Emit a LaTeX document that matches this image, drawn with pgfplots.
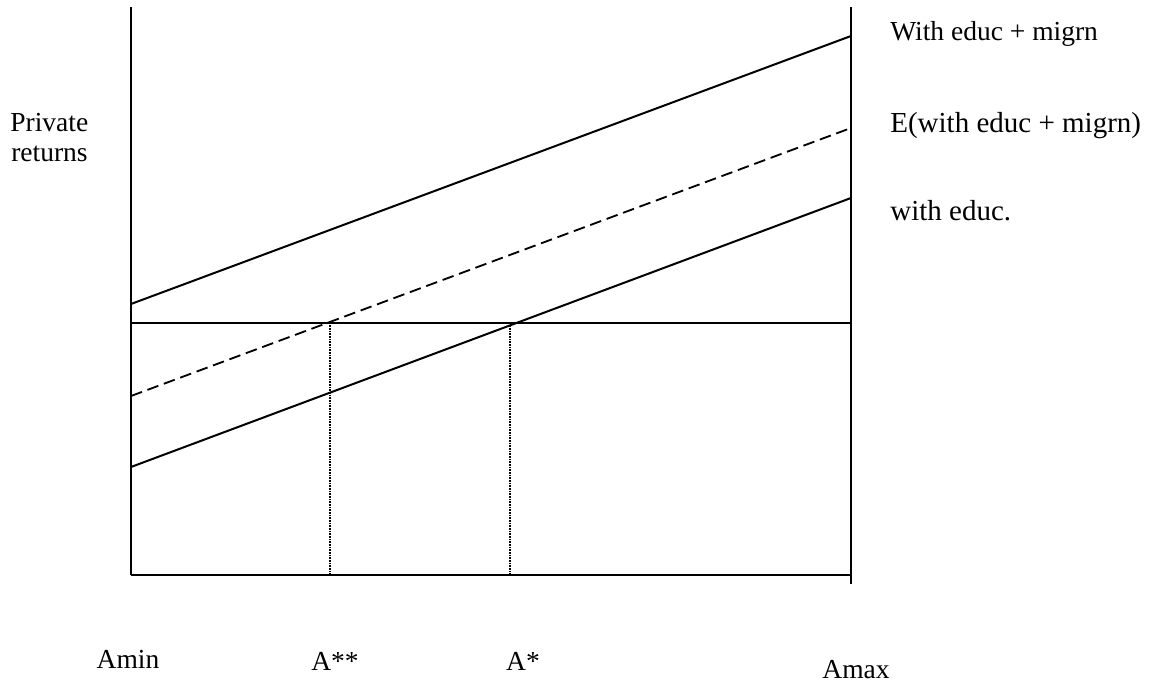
\documentclass[border=0pt]{standalone}
\usepackage{pgfplots}
\pgfplotsset{compat=1.18}
\usepackage{fontspec}
\setmainfont{Liberation Serif}
\begin{document}
\begin{tikzpicture}
\begin{axis}[
  scale only axis,
  width=432pt, height=340.8pt,
  xmin=0, xmax=720, ymin=0, ymax=568,
  hide axis, clip=false,
  nodes={font=\fontsize{16.5}{19}\selectfont, inner sep=0pt},
]
% frame lines
\addplot[black, line width=1.2pt, no markers] coordinates {(0,0) (0,568)};
\addplot[black, line width=1.2pt, no markers] coordinates {(0,0) (720,0)};
\addplot[black, line width=1.2pt, no markers] coordinates {(720,-9) (720,568)};
\addplot[black, line width=1.2pt, no markers] coordinates {(0,252) (720,252)};
% return lines
\addplot[black, line width=1.2pt, no markers] coordinates {(0,271) (720,539)};
\addplot[black, line width=1.1pt, no markers, dash pattern=on 7pt off 3.5pt] coordinates {(0,179) (720,447)};
\addplot[black, line width=1.2pt, no markers] coordinates {(0,108) (720,377)};
% verticals
\addplot[black, line width=0.9pt, no markers, dash pattern=on 1pt off 0.6pt] coordinates {(199,0) (199,252)};
\addplot[black, line width=0.9pt, no markers, dash pattern=on 1pt off 0.6pt] coordinates {(379,0) (379,252)};
% labels
\node[anchor=base west] at (axis cs:759,534) {With educ + migrn};
\node[anchor=base west, font=\fontsize{17.4}{20}\selectfont] at (axis cs:759,442) {E(with educ + migrn)};
\node[anchor=base west, font=\fontsize{17.4}{20}\selectfont] at (axis cs:759,354) {with educ.};
\node[anchor=base west] at (axis cs:-121,443) {Private};
\node[anchor=base west] at (axis cs:-120,413) {returns};
\node[anchor=base] at (axis cs:-3,-93) {Amin};
\node[anchor=base] at (axis cs:204,-95) {A**};
\node[anchor=base] at (axis cs:392,-95) {A*};
\node[anchor=base] at (axis cs:725,-103) {Amax};
\path (axis cs:-131,-112) rectangle (axis cs:1026,575);
\end{axis}
\end{tikzpicture}
\end{document}
